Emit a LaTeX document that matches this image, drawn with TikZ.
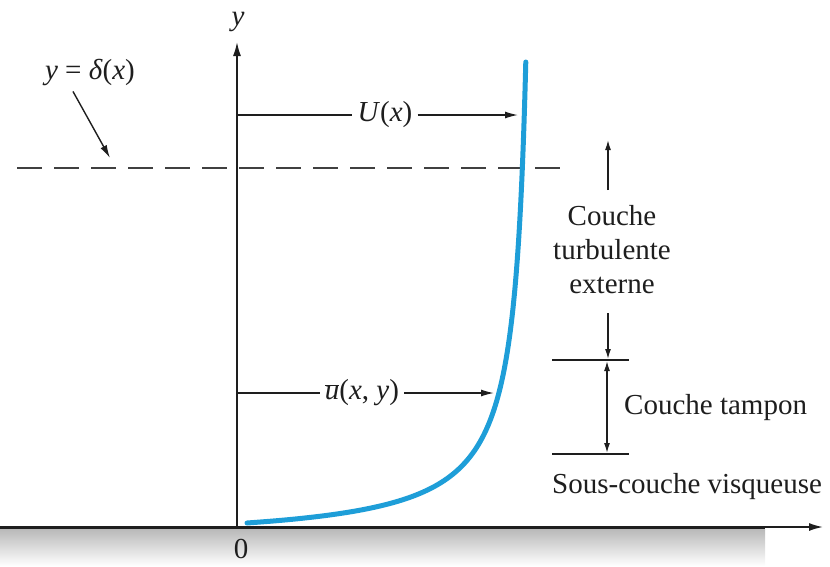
\documentclass[tikz,border=0pt]{standalone}
\usepackage{fontspec}
\setmainfont{Liberation Serif}
\usetikzlibrary{arrows.meta}
\definecolor{curveblue}{RGB}{30,158,216}
\definecolor{ink}{RGB}{30,30,30}
\begin{document}
\begin{tikzpicture}[x=1pt,y=-1pt,
  font=\fontsize{29}{34}\selectfont, text=ink,
  axis/.style={draw=ink,line width=1.6pt},
  arr/.style={draw=ink,line width=1.4pt,-{Latex[length=13pt,width=7pt]}},
  smallarr/.style={draw=ink,line width=1.4pt,-{Latex[length=10pt,width=6pt]}},
  dblarr/.style={draw=ink,line width=1.4pt,{Latex[length=10pt,width=6pt]}-{Latex[length=10pt,width=6pt]}},
  lbl/.style={inner sep=0pt},
  tick/.style={draw=ink,line width=1.6pt}]
\useasboundingbox (0,0) rectangle (830,566);

% ground shading
\shade[top color=gray!55,bottom color=white] (0,529) rectangle (765,566);

% axes
\coordinate (O) at (237,527);
\coordinate (ytop) at (237,42);
\coordinate (xl) at (0,527);
\coordinate (xm) at (765,527);
\coordinate (xr) at (823,527);
\draw[axis,-{Latex[length=14pt,width=8pt]}] (O) -- (ytop);
\draw[draw=ink,line width=3pt] (xl) -- (xm);
\draw[axis,-{Latex[length=14pt,width=8pt]}] (xm) -- (xr);
\node[lbl] (ylab) at (238,22) {\textit{y}};
\node[lbl] (zero) at (241,549) {0};

% boundary layer thickness
\coordinate (da) at (17,168);
\coordinate (db) at (560,168);
\draw[draw=ink!85,line width=2pt,dash pattern=on 25pt off 12pt] (da) -- (db);
\node[lbl] (dl) at (90,72) {\textit{y} = \textit{δ}(\textit{x})};
\coordinate (dtip) at (110,158);
\draw[arr] ([xshift=-17pt,yshift=-6pt]dl.south) -- (dtip);

% U(x)
\coordinate (Ua) at (237,115);
\node[inner sep=5pt] (Ul) at (385,115) {\textit{U}(\textit{x})};
\coordinate (Utip) at (518,115);
\draw[draw=ink,line width=1.4pt] (Ua) -- (Ul.west);
\draw[arr] (Ul.east) -- (Utip);

% u(x,y)
\coordinate (ua) at (237,393);
\node[inner sep=5pt] (ul) at (362,393) {$\overline{\hbox{\textit{u}}}$(\textit{x}, \textit{y})};
\coordinate (utip) at (494,393);
\draw[draw=ink,line width=1.4pt] (ua) -- (ul.west);
\draw[arr] (ul.east) -- (utip);

% velocity profile
\draw[curveblue,line width=5pt,line cap=round] plot[domain=0:461,samples=240,variable=\h,smooth]
 ({247+291*(\h/(\h+20.2))},{523-\h});

% right annotations
\node[align=center,lbl] (cte) at (612,250) {Couche\\turbulente\\externe};
\coordinate (up1) at (608,190);
\coordinate (up2) at (608,140);
\draw[smallarr] (up1) -- (up2);
\coordinate (dn1) at (608,313);
\coordinate (dn2) at (608,359);
\draw[smallarr] (dn1) -- (dn2);
\coordinate (l1a) at (552,360);
\coordinate (l1b) at (629,360);
\coordinate (l2a) at (552,454);
\coordinate (l2b) at (629,454);
\draw[tick] (l1a) -- (l1b);
\draw[tick] (l2a) -- (l2b);
\coordinate (ta) at (607,361);
\coordinate (tb) at (607,453);
\draw[dblarr] (ta) -- (tb);
\node[lbl,anchor=west] (ct) at (624,408) {Couche tampon};
\node[lbl,anchor=west] (scv) at (552,487) {Sous-couche visqueuse};
\end{tikzpicture}
\end{document}
